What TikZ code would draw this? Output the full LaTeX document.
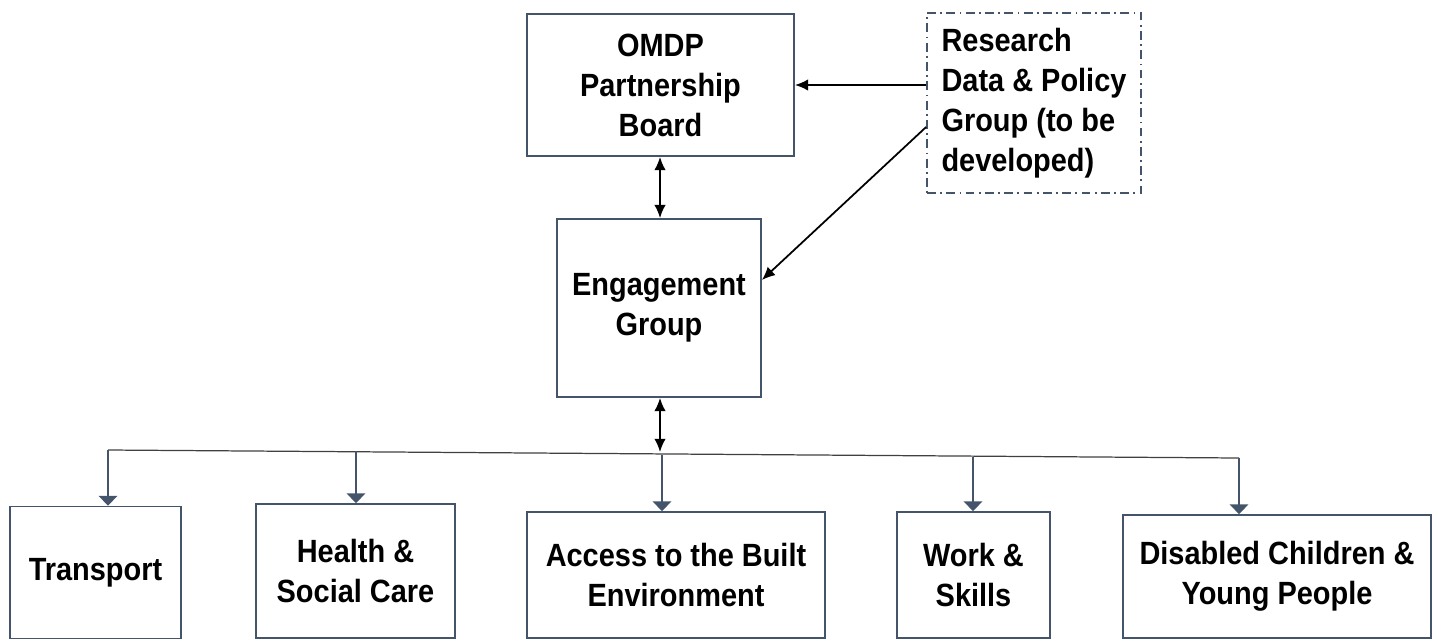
\documentclass[tikz,border=0pt]{standalone}
\usepackage{fontspec}
\setmainfont[FakeStretch=0.9]{Liberation Sans}
\usetikzlibrary{arrows.meta}

\definecolor{slate}{HTML}{44546A}

\begin{document}
\begin{tikzpicture}[x=0.02cm, y=-0.02cm,
        every node/.style={font=\fontsize{18.3}{22.8}\selectfont\bfseries, align=center, inner sep=0pt},
        unit/.style={draw=slate, line width=1pt, fill=white},
        link/.style={line width=1pt, {Latex[length=7.5pt,width=6.5pt]}-{Latex[length=7.5pt,width=6.5pt]}},
        feed/.style={line width=1pt, -{Latex[length=7.5pt,width=6.5pt]}},
        drop/.style={slate, line width=1pt, -{Triangle[width=10.5pt,length=5.5pt]}}]
    \useasboundingbox (0,0) rectangle (1436,640);

    \node[unit, minimum width=267*0.02cm, minimum height=142*0.02cm] (board) at (660.5, 85) {OMDP\\Partnership\\Board};
    \node[unit, minimum width=204*0.02cm, minimum height=178*0.02cm] (engage) at (659, 308) {Engagement\\Group};
    \node[draw=slate, line width=1pt, dash pattern=on 5pt off 2.5pt on 1pt off 2.5pt, align=left,
          minimum width=214*0.02cm, minimum height=180*0.02cm] (research) at (1034, 103) {Research\\Data \& Policy\\Group (to be\\developed)};

    \node[unit, minimum width=171*0.02cm, minimum height=132*0.02cm] (transport) at (95.5, 572.5) {\raisebox{-4pt}{Transport}};
    \node[unit, minimum width=199*0.02cm, minimum height=134*0.02cm] (health) at (355.5, 571) {Health \&\\Social Care};
    \node[unit, minimum width=298*0.02cm, minimum height=126*0.02cm] (access) at (676, 575) {Access to the Built\\Environment};
    \node[unit, minimum width=153*0.02cm, minimum height=126*0.02cm] (work) at (973.5, 575) {Work \&\\Skills};
    \node[unit, minimum width=308*0.02cm, minimum height=123*0.02cm] (children) at (1277, 576.5) {Disabled Children \&\\Young People};

    % feeds from the research group
    \draw[feed] (research.west |- board.east) -- (board.east);
    \draw[feed] (research.west |- 0,127) -- (engage.east |- 0,280);

    % board <-> engagement <-> bar
    \coordinate (hub) at (660, 452);
    \draw[link] (board.south -| 660,0) -- (engage.north -| 660,0);
    \draw[link] (engage.south -| hub) -- (hub);

    % distribution bar
    \coordinate (d1) at (108, 450);
    \coordinate (d2) at (356, 451);
    \coordinate (d3) at (662, 455);
    \coordinate (d4) at (973, 457);
    \coordinate (d5) at (1239, 458);
    \draw[black!75, line width=0.7pt] (d1) -- (d5);
    \draw[drop] (d1) -- (d1 |- transport.north);
    \draw[drop] (d2) -- (d2 |- health.north);
    \draw[drop] (d3) -- (d3 |- access.north);
    \draw[drop] (d4) -- (d4 |- work.north);
    \draw[drop] (d5) -- (d5 |- children.north);
\end{tikzpicture}
\end{document}
